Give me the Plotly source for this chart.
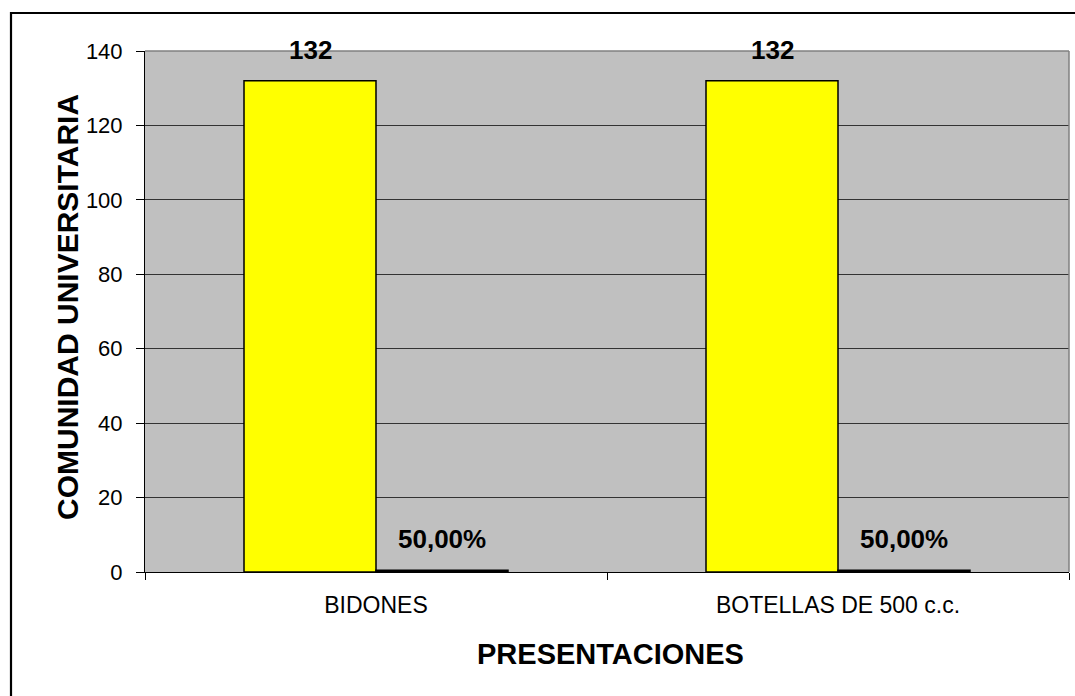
import plotly.graph_objects as go

# Data
categories = ["BIDONES", "BOTELLAS DE 500 c.c."]
counts = [132, 132]
shares = [0.5, 0.5]
count_labels = ["132", "132"]
share_labels = ["50,00%", "50,00%"]
y_ticks = [0, 20, 40, 60, 80, 100, 120, 140]

W, H = 1075, 696
ML, MR, MT, MB = 145, 6, 51, 124
PW, PH = W - ML - MR, H - MT - MB


def px_x(px):
    return (px - ML) / PW


def px_y(py):
    return (H - MB - py) / PH


FONT = "Liberation Sans, Arial, sans-serif"

fig = go.Figure()
fig.add_trace(go.Bar(
    x=categories, y=counts, name="Cantidad",
    marker=dict(color="#FFFF00", line=dict(color="#000000", width=1.5)),
    hoverinfo="x+y",
))
fig.add_trace(go.Bar(
    x=categories, y=shares, name="Porcentaje",
    marker=dict(color="#000000", line=dict(color="#000000", width=1.5)),
    hoverinfo="x+y",
))

# value labels above each bar
bar_shift = PW / len(categories) / 3.5 / 2
annotations = []
for cat, v, t in zip(categories, counts, count_labels):
    annotations.append(dict(x=cat, y=v, xref="x", yref="y", text=f"<b>{t}</b>",
                            showarrow=False, xshift=-bar_shift, yshift=31,
                            yanchor="middle",
                            font=dict(family=FONT, size=26, color="#000000")))
for cat, v, t in zip(categories, shares, share_labels):
    annotations.append(dict(x=cat, y=v, xref="x", yref="y", text=f"<b>{t}</b>",
                            showarrow=False, xshift=bar_shift, yshift=31,
                            yanchor="middle",
                            font=dict(family=FONT, size=26, color="#000000")))

# axis titles
annotations.append(dict(x=px_x(67), y=px_y(307), xref="paper", yref="paper",
                        text="<b>COMUNIDAD UNIVERSITARIA</b>", textangle=-90,
                        showarrow=False, xanchor="center", yanchor="middle",
                        font=dict(family=FONT, size=30, color="#000000")))
annotations.append(dict(x=px_x(610), y=px_y(654), xref="paper", yref="paper",
                        text="<b>PRESENTACIONES</b>",
                        showarrow=False, xanchor="center", yanchor="middle",
                        font=dict(family=FONT, size=29, color="#000000")))

shapes = [
    # outer chart frame
    dict(type="rect", xref="paper", yref="paper",
         x0=px_x(11), x1=px_x(1085), y0=px_y(13), y1=px_y(710),
         line=dict(color="#000000", width=2.2), layer="above"),
    # plot area edges (top, right)
    dict(type="line", xref="paper", yref="paper", x0=0, x1=1, y0=1, y1=1,
         line=dict(color="#808080", width=1.5), layer="above"),
    dict(type="line", xref="paper", yref="paper", x0=1, x1=1, y0=0, y1=1,
         line=dict(color="#808080", width=1.5), layer="above"),
]

fig.update_layout(
    width=W, height=H,
    margin=dict(l=ML, r=MR, t=MT, b=MB, pad=0),
    paper_bgcolor="#FFFFFF",
    plot_bgcolor="#C0C0C0",
    barmode="group",
    bargap=1.5 / 3.5,
    bargroupgap=0,
    showlegend=False,
    font=dict(family=FONT, color="#000000"),
    annotations=annotations,
    shapes=shapes,
    xaxis=dict(
        type="category",
        showgrid=False,
        showline=True, linecolor="#000000", linewidth=1,
        ticks="outside", ticklen=7, tickcolor="#000000", tickson="boundaries",
        tickfont=dict(family=FONT, size=23, color="#000000"),
        ticklabelstandoff=12,
    ),
    yaxis=dict(
        range=[0, 140],
        tickvals=y_ticks,
        showgrid=True, gridcolor="#333333", gridwidth=1,
        zeroline=False,
        showline=True, linecolor="#000000", linewidth=1,
        ticks="outside", ticklen=8, tickcolor="#000000",
        tickfont=dict(family=FONT, size=22, color="#000000"),
        ticklabelstandoff=9,
    ),
)

fig.write_html("out.html")
